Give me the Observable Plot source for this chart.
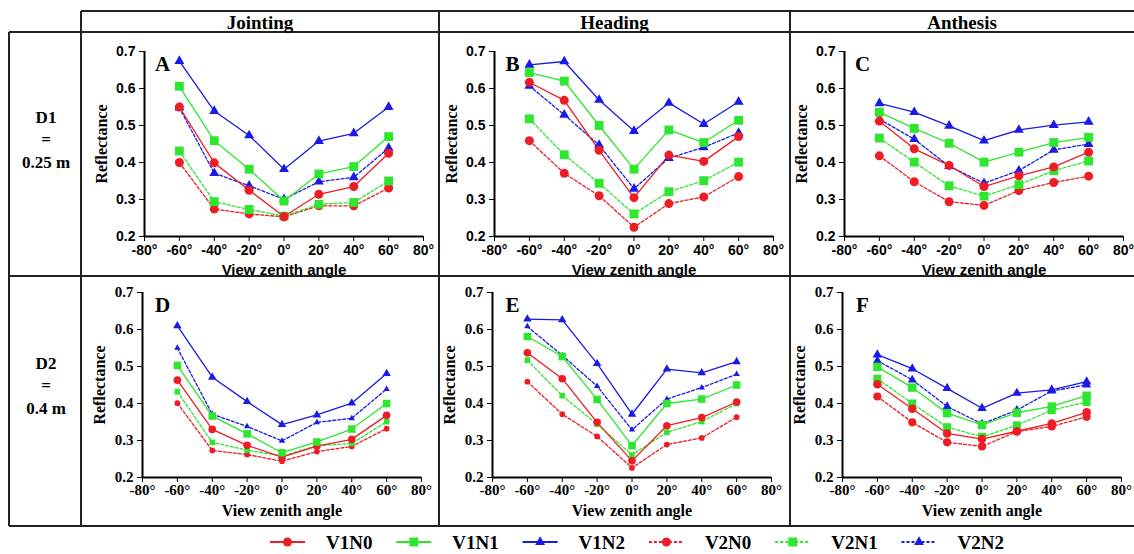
<!DOCTYPE html>
<html>
<head>
<meta charset="utf-8">
<script src="https://cdn.jsdelivr.net/npm/d3@7"></script>
<script src="https://cdn.jsdelivr.net/npm/@observablehq/plot@0.6"></script>
<style>
html, body { margin: 0; padding: 0; background: #fff; }
#fig { position: relative; width: 1134px; height: 554px; overflow: hidden; background: #fff; }
#fig svg { position: absolute; }
</style>
</head>
<body>
<div id="fig"></div>
<script>
// ---------- data ----------
const angles = [-60, -40, -20, 0, 20, 40, 60];
const series = ["V1N0", "V1N1", "V1N2", "V2N0", "V2N1", "V2N2"];
const stages = ["Jointing", "Heading", "Anthesis"];
const rowNames = ["D1", "D2"];
const rowHeights = ["0.25 m", "0.4 m"];
const letters = ["A", "B", "C", "D", "E", "F"];
const xTicks = [-80, -60, -40, -20, 0, 20, 40, 60, 80];
const yTicks = [0.2, 0.3, 0.4, 0.5, 0.6, 0.7];
const xLabel = "View zenith angle";
const yLabel = "Reflectance";

// rows follow `series` order: V1N0, V1N1, V1N2, V2N0, V2N1, V2N2
const panelA = [
  [0.550, 0.399, 0.325, 0.254, 0.314, 0.335, 0.425],
  [0.606, 0.459, 0.382, 0.296, 0.369, 0.389, 0.470],
  [0.674, 0.539, 0.473, 0.382, 0.458, 0.479, 0.550],
  [0.400, 0.274, 0.261, 0.253, 0.283, 0.283, 0.331],
  [0.431, 0.294, 0.273, 0.255, 0.287, 0.292, 0.350],
  [0.548, 0.371, 0.337, 0.301, 0.348, 0.360, 0.439]
];
const panelB = [
  [0.617, 0.568, 0.433, 0.305, 0.420, 0.403, 0.470],
  [0.643, 0.620, 0.500, 0.382, 0.488, 0.454, 0.514],
  [0.664, 0.673, 0.569, 0.485, 0.561, 0.504, 0.564],
  [0.459, 0.371, 0.310, 0.225, 0.289, 0.307, 0.362],
  [0.518, 0.421, 0.344, 0.261, 0.321, 0.351, 0.401],
  [0.607, 0.529, 0.447, 0.329, 0.412, 0.441, 0.480]
];
const panelC = [
  [0.512, 0.437, 0.392, 0.335, 0.364, 0.388, 0.428],
  [0.536, 0.492, 0.452, 0.401, 0.428, 0.454, 0.468],
  [0.560, 0.536, 0.499, 0.459, 0.488, 0.501, 0.510],
  [0.418, 0.348, 0.294, 0.284, 0.324, 0.346, 0.363],
  [0.466, 0.401, 0.337, 0.309, 0.340, 0.378, 0.404],
  [0.517, 0.463, 0.390, 0.344, 0.378, 0.434, 0.450]
];
const panelD = [
  [0.463, 0.330, 0.287, 0.255, 0.285, 0.303, 0.368],
  [0.503, 0.366, 0.318, 0.267, 0.296, 0.331, 0.400],
  [0.610, 0.471, 0.405, 0.343, 0.369, 0.401, 0.481],
  [0.401, 0.273, 0.262, 0.244, 0.270, 0.284, 0.332],
  [0.432, 0.295, 0.274, 0.258, 0.286, 0.292, 0.351],
  [0.550, 0.371, 0.338, 0.299, 0.349, 0.360, 0.439]
];
const panelE = [
  [0.537, 0.467, 0.349, 0.245, 0.340, 0.362, 0.404],
  [0.581, 0.527, 0.411, 0.286, 0.400, 0.412, 0.450],
  [0.628, 0.626, 0.508, 0.371, 0.493, 0.483, 0.513],
  [0.459, 0.371, 0.311, 0.226, 0.289, 0.307, 0.363],
  [0.517, 0.421, 0.344, 0.261, 0.322, 0.351, 0.400],
  [0.608, 0.530, 0.447, 0.329, 0.412, 0.443, 0.479]
];
const panelF = [
  [0.452, 0.386, 0.319, 0.304, 0.325, 0.346, 0.376],
  [0.499, 0.443, 0.374, 0.342, 0.375, 0.392, 0.421],
  [0.532, 0.494, 0.441, 0.387, 0.428, 0.437, 0.459],
  [0.419, 0.349, 0.295, 0.284, 0.324, 0.338, 0.364],
  [0.467, 0.400, 0.336, 0.310, 0.341, 0.382, 0.404],
  [0.516, 0.464, 0.392, 0.345, 0.382, 0.434, 0.450]
];
const panels = [panelA, panelB, panelC, panelD, panelE, panelF];

// ---------- styling ----------
const SANS = "'Liberation Sans', Arial, sans-serif";
const SERIF = "'Liberation Serif', 'Times New Roman', serif";
const nColor = { N0: "#ee1c24", N1: "#2ee62e", N2: "#1a1ae6" };
const nSymbol = { N0: "circle", N1: "square", N2: "triangle" };
const nR = { N0: 4.5, N1: 5.0, N2: 3.7 };
function styleOf(s) {
  const n = s.slice(2);
  const dashed = s.startsWith("V2");
  return { color: nColor[n], symbol: nSymbol[n], r: nR[n], dash: dashed ? "3,2" : null, dashed };
}

const fig = document.getElementById("fig");
function place(el, left, top) {
  el.style.position = "absolute";
  el.style.left = left + "px";
  el.style.top = top + "px";
  fig.appendChild(el);
}

// ---------- panels ----------
const axisXs = [[144, 494, 844], [142, 492, 842]];
const axisTops = [51, 292];
const markerScale = [[1, 1, 1], [0.85, 0.85, 0.95]];
const dashedScale = [[1, 1, 1], [0.75, 0.75, 0.95]];

panels.forEach((vals, idx) => {
  const row = idx < 3 ? 0 : 1;
  const col = idx % 3;
  const fw = 279, fh = 185;
  const mL = 60, mR = 16, mT = 12, mB = 48;
  const data = [];
  series.forEach((s, i) => angles.forEach((a, j) => data.push({ series: s, angle: a, value: vals[i][j] })));
  const order = ["V2N0", "V2N1", "V2N2", "V1N0", "V1N1", "V1N2"];
  const marks = [];
  for (const s of order) {
    const st = styleOf(s);
    marks.push(Plot.line(data.filter(r => r.series === s), {
      x: "angle", y: "value", stroke: st.color, strokeWidth: 1.3, strokeDasharray: st.dash
    }));
  }
  for (const s of order) {
    const st = styleOf(s);
    const k = markerScale[row][col] * (st.dashed ? dashedScale[row][col] : 1);
    marks.push(Plot.dot(data.filter(r => r.series === s), {
      x: "angle", y: "value", symbol: st.symbol, r: st.r * k, fill: st.color, stroke: "none"
    }));
  }
  marks.push(Plot.ruleX([-80], { strokeWidth: 2, stroke: "#000" }));
  marks.push(Plot.ruleY([0.2], { strokeWidth: 2, stroke: "#000" }));
  marks.push(Plot.text([letters[idx]], {
    text: d => d, frameAnchor: "top-left", dx: row ? 20 : 18, dy: 13,
    textAnchor: "middle", lineAnchor: "middle",
    fontFamily: SERIF, fontWeight: "bold", fontSize: 21, fill: "#000"
  }));
  marks.push(Plot.text([yLabel], {
    text: d => d, frameAnchor: "left", dx: -43, rotate: -90,
    textAnchor: "middle", lineAnchor: "middle",
    fontFamily: SERIF, fontWeight: "bold", fontSize: 16, fill: "#000"
  }));
  marks.push(Plot.text([xLabel], {
    text: d => d, frameAnchor: "bottom", dy: row ? 33 : 34,
    textAnchor: "middle", lineAnchor: "middle",
    fontFamily: row ? SERIF : SANS, fontWeight: "bold", fontSize: row ? 16 : 15, fill: "#000"
  }));
  const svg = Plot.plot({
    width: mL + fw + mR, height: mT + fh + mB,
    marginLeft: mL, marginRight: mR, marginTop: mT, marginBottom: mB,
    x: { domain: [-80, 80], ticks: xTicks, tickFormat: d => d + "°", tickSize: 5, tickPadding: row ? 2 : 4, label: null },
    y: { domain: [0.2, 0.7], ticks: yTicks, tickFormat: d => d.toFixed(1), tickSize: 5, tickPadding: 4, label: null },
    style: {
      background: "transparent", fontFamily: row ? SERIF : SANS, fontSize: row ? "15px" : "14px",
      fontWeight: "bold", color: "#000", overflow: "visible"
    },
    marks
  });
  place(svg, axisXs[row][col] - mL, axisTops[row] - mT);
});

// ---------- legend ----------
const leg = d3.create("svg").attr("width", 1134).attr("height", 26);
series.forEach((s, i) => {
  const st = styleOf(s);
  const x0 = 270 + i * 126.3;
  const cy = 13;
  const g = leg.append("g");
  g.append("line").attr("x1", x0).attr("x2", x0 + 35).attr("y1", cy).attr("y2", cy)
    .attr("stroke", st.color).attr("stroke-width", 2).attr("stroke-dasharray", st.dash);
  const sym = { circle: d3.symbolCircle, square: d3.symbolSquare, triangle: d3.symbolTriangle }[st.symbol];
  g.append("path").attr("d", d3.symbol(sym, Math.PI * st.r * st.r)())
    .attr("transform", `translate(${x0 + 17.5},${cy})`).attr("fill", st.color);
  g.append("text").attr("x", x0 + 56).attr("y", cy).attr("dy", "0.35em")
    .attr("font-family", SERIF).attr("font-weight", "bold").attr("font-size", 19).text(s);
});
place(leg.node(), 0, 529);

// ---------- table frame & headers ----------
const tbl = d3.create("svg").attr("width", 1134).attr("height", 554).style("pointer-events", "none");
const lines = [
  [81, 11, 1134, 11], [9, 32, 1134, 32], [9, 276, 1134, 276], [9, 526, 1134, 526],
  [9, 32, 9, 526], [81, 11, 81, 526], [439, 11, 439, 526], [790, 11, 790, 526]
];
lines.forEach(([x1, y1, x2, y2]) => tbl.append("line").attr("x1", x1).attr("y1", y1).attr("x2", x2).attr("y2", y2)
  .attr("stroke", "#222").attr("stroke-width", 2));
const colCenters = [260, 614.5, 962];
stages.forEach((s, i) => tbl.append("text").attr("x", colCenters[i]).attr("y", 22).attr("dy", "0.35em")
  .attr("text-anchor", "middle").attr("font-family", SERIF).attr("font-weight", "bold").attr("font-size", 19).text(s));
const rowTops = [117, 363];
rowNames.forEach((r, i) => {
  [r, "=", rowHeights[i]].forEach((t, k) => tbl.append("text").attr("x", 46).attr("y", rowTops[i] + k * 22.5)
    .attr("dy", "0.35em").attr("text-anchor", "middle").attr("font-family", SERIF)
    .attr("font-weight", "bold").attr("font-size", 17).text(t));
});
place(tbl.node(), 0, 0);
</script>
</body>
</html>
